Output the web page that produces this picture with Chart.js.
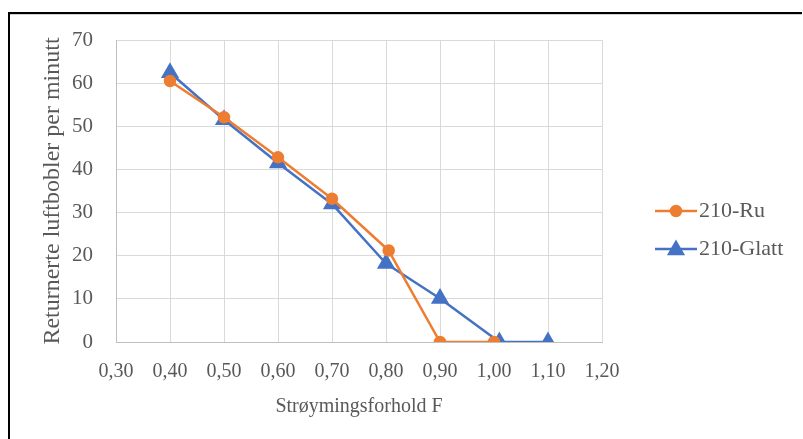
<!DOCTYPE html>
<html>
<head>
<meta charset="utf-8">
<script src="https://cdn.jsdelivr.net/npm/chart.js@4/dist/chart.umd.min.js"></script>
<style>
  html, body { margin: 0; padding: 0; background: #fff; }
  #wrap { position: relative; width: 803px; height: 439px; }
  #frame {
    position: absolute; left: 8px; top: 12px; width: 792px; height: 440px;
    border-top: 2px solid #000; border-left: 2px solid #000;
    box-shadow: inset 0 1px 0 #d0d0d0;
    pointer-events: none;
  }
</style>
</head>
<body>
<div id="wrap">
  <canvas id="chart" width="803" height="439"></canvas>
  <div id="frame"></div>
</div>
<script>
// Data lest av figuren
const seriesNames = ['210-Ru', '210-Glatt'];
const ruX = [0.40, 0.50, 0.60, 0.70, 0.805, 0.90, 1.00];
const ruY = [60.5, 52.1, 42.8, 33.2, 21.2, 0, 0];
const glattX = [0.40, 0.50, 0.60, 0.70, 0.80, 0.90, 1.01, 1.10];
const glattY = [62.4, 51.5, 41.5, 32.0, 18.2, 10.1, 0, 0];
const xTicks = [0.30, 0.40, 0.50, 0.60, 0.70, 0.80, 0.90, 1.00, 1.10, 1.20];
const yTicks = [0, 10, 20, 30, 40, 50, 60, 70];

const toPoints = (xs, ys) => xs.map((x, i) => ({ x: x, y: ys[i] }));
const fmt = (v) => v.toFixed(2).replace('.', ',');

const textColor = '#595959';
const serif = 'Liberation Serif, Times New Roman, serif';

// Egen forklaring: linje med markør, slik Excel tegner den
const lineLegend = {
    id: 'lineLegend',
    afterDraw(chart) {
        const ctx = chart.ctx;
        chart.data.datasets.forEach((ds, i) => {
            const y = 211 + i * 38;
            ctx.save();
            ctx.strokeStyle = ds.borderColor;
            ctx.lineWidth = 2.5;
            ctx.beginPath();
            ctx.moveTo(655, y);
            ctx.lineTo(697, y);
            ctx.stroke();
            ctx.fillStyle = ds.pointBackgroundColor;
            ctx.strokeStyle = ds.pointBorderColor;
            Chart.helpers.drawPoint(ctx, {
                pointStyle: ds.pointStyle,
                radius: ds.pointStyle === 'triangle' ? 8 : 5,
                rotation: 0,
                borderWidth: 1
            }, 676, y + (ds.pointStyle === 'triangle' ? 1 : 0));
            ctx.fillStyle = textColor;
            ctx.font = '22px ' + serif;
            ctx.textBaseline = 'middle';
            ctx.textAlign = 'left';
            ctx.fillText(ds.label, 699, y);
            ctx.restore();
        });
    }
};

new Chart(document.getElementById('chart').getContext('2d'), {
    type: 'scatter',
    data: {
        datasets: [
            {
                label: seriesNames[0],
                data: toPoints(ruX, ruY),
                showLine: true,
                borderColor: '#ED7D31',
                backgroundColor: '#ED7D31',
                pointBackgroundColor: '#ED7D31',
                pointBorderColor: '#ED7D31',
                pointStyle: 'circle',
                pointRadius: 5,
                borderWidth: 2.5,
                borderJoinStyle: 'round'
            },
            {
                label: seriesNames[1],
                data: toPoints(glattX, glattY),
                showLine: true,
                borderColor: '#4472C4',
                backgroundColor: '#4472C4',
                pointBackgroundColor: '#4472C4',
                pointBorderColor: '#4472C4',
                pointStyle: 'triangle',
                pointRadius: 8,
                borderWidth: 2.5,
                borderJoinStyle: 'round'
            }
        ]
    },
    options: {
        responsive: false,
        animation: false,
        layout: { padding: { left: 35, top: 40, right: 201, bottom: 16 } },
        plugins: {
            legend: { display: false },
            tooltip: { enabled: false }
        },
        scales: {
            x: {
                type: 'linear',
                min: xTicks[0],
                max: xTicks[xTicks.length - 1],
                afterBuildTicks: (scale) => { scale.ticks = xTicks.map(v => ({ value: v })); },
                afterFit: (scale) => { scale.height = 81; },
                grid: { color: '#d9d9d9', drawTicks: false },
                border: { color: '#bfbfbf' },
                ticks: {
                    padding: 18,
                    color: textColor,
                    font: { family: serif, size: 20 },
                    callback: (v) => fmt(v)
                },
                title: {
                    display: true,
                    text: 'Strøymingsforhold F',
                    color: textColor,
                    font: { family: serif, size: 20 },
                    padding: { top: 4, bottom: 4 }
                }
            },
            y: {
                min: yTicks[0],
                max: yTicks[yTicks.length - 1],
                afterBuildTicks: (scale) => { scale.ticks = yTicks.map(v => ({ value: v })); },
                afterFit: (scale) => { scale.width = 81; },
                grid: { color: '#d9d9d9', drawTicks: false },
                border: { color: '#bfbfbf' },
                ticks: {
                    padding: 23,
                    color: textColor,
                    font: { family: serif, size: 21 }
                },
                title: {
                    display: true,
                    text: 'Returnerte luftbobler per minutt',
                    color: textColor,
                    font: { family: serif, size: 24 },
                    padding: { top: 3, bottom: 3 }
                }
            }
        }
    },
    plugins: [lineLegend]
});
</script>
</body>
</html>
